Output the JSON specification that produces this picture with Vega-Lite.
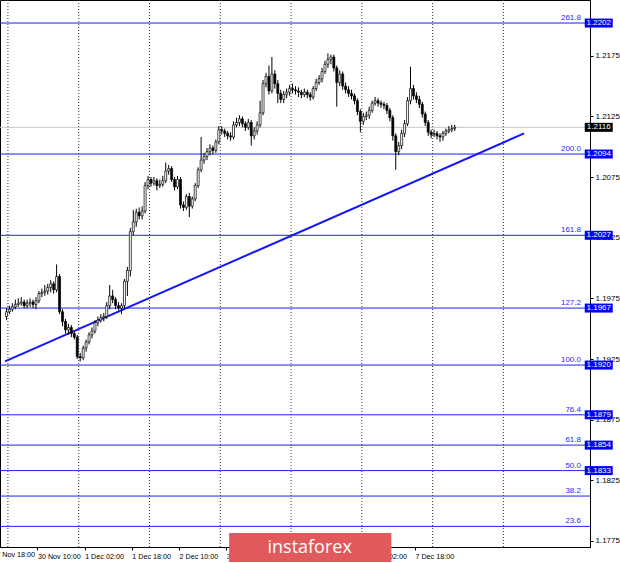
{
  "$schema": "https://vega.github.io/schema/vega-lite/v6.json",
  "width": 590,
  "height": 547,
  "autosize": {"type": "none"},
  "padding": {"left": 0, "top": 0, "right": 30, "bottom": 16},
  "background": "white",
  "config": {
    "view": {"stroke": "black", "strokeWidth": 1},
    "axis": {"labelFont": "Liberation Sans", "labelFontSize": 8, "labelColor": "black", "domainColor": "black", "tickColor": "black", "grid": false, "title": null, "tickSize": 3}
  },
  "datasets": {
    "candles": [
      {"i":0,"o":1.1960,"h":1.1967,"l":1.1957,"c":1.1964},
      {"i":1,"o":1.1964,"h":1.1969,"l":1.1962,"c":1.1966},
      {"i":2,"o":1.1966,"h":1.1971,"l":1.1964,"c":1.1968},
      {"i":3,"o":1.1968,"h":1.1974,"l":1.1966,"c":1.1970},
      {"i":4,"o":1.1970,"h":1.1975,"l":1.1968,"c":1.1971},
      {"i":5,"o":1.1971,"h":1.1976,"l":1.1969,"c":1.1972},
      {"i":6,"o":1.1972,"h":1.1974,"l":1.1967,"c":1.1969},
      {"i":7,"o":1.1969,"h":1.1974,"l":1.1967,"c":1.1971},
      {"i":8,"o":1.1971,"h":1.1975,"l":1.1968,"c":1.1972},
      {"i":9,"o":1.1972,"h":1.1974,"l":1.1967,"c":1.1970},
      {"i":10,"o":1.1970,"h":1.1976,"l":1.1966,"c":1.1973},
      {"i":11,"o":1.1973,"h":1.1981,"l":1.1971,"c":1.1979},
      {"i":12,"o":1.1979,"h":1.1983,"l":1.1976,"c":1.1980},
      {"i":13,"o":1.1980,"h":1.1986,"l":1.1977,"c":1.1981},
      {"i":14,"o":1.1981,"h":1.1987,"l":1.1978,"c":1.1984},
      {"i":15,"o":1.1984,"h":1.1990,"l":1.1980,"c":1.1987},
      {"i":16,"o":1.1987,"h":1.1989,"l":1.1979,"c":1.1982},
      {"i":17,"o":1.1982,"h":1.2003,"l":1.1980,"c":1.1993},
      {"i":18,"o":1.1993,"h":1.1995,"l":1.1962,"c":1.1964},
      {"i":19,"o":1.1964,"h":1.1966,"l":1.1952,"c":1.1956},
      {"i":20,"o":1.1956,"h":1.1958,"l":1.1946,"c":1.1949},
      {"i":21,"o":1.1949,"h":1.1954,"l":1.1945,"c":1.1951},
      {"i":22,"o":1.1951,"h":1.1953,"l":1.1943,"c":1.1946},
      {"i":23,"o":1.1946,"h":1.1948,"l":1.1941,"c":1.1943},
      {"i":24,"o":1.1943,"h":1.1945,"l":1.1925,"c":1.1927},
      {"i":25,"o":1.1927,"h":1.1930,"l":1.1923,"c":1.1926},
      {"i":26,"o":1.1926,"h":1.1936,"l":1.1924,"c":1.1934},
      {"i":27,"o":1.1934,"h":1.1941,"l":1.1931,"c":1.1939},
      {"i":28,"o":1.1939,"h":1.1947,"l":1.1937,"c":1.1945},
      {"i":29,"o":1.1945,"h":1.1951,"l":1.1942,"c":1.1948},
      {"i":30,"o":1.1948,"h":1.1957,"l":1.1946,"c":1.1955},
      {"i":31,"o":1.1955,"h":1.1960,"l":1.1952,"c":1.1957},
      {"i":32,"o":1.1957,"h":1.1962,"l":1.1955,"c":1.1959},
      {"i":33,"o":1.1959,"h":1.1963,"l":1.1956,"c":1.1960},
      {"i":34,"o":1.1960,"h":1.1972,"l":1.1958,"c":1.1969},
      {"i":35,"o":1.1969,"h":1.1986,"l":1.1966,"c":1.1977},
      {"i":36,"o":1.1977,"h":1.1982,"l":1.1971,"c":1.1974},
      {"i":37,"o":1.1974,"h":1.1976,"l":1.1966,"c":1.1969},
      {"i":38,"o":1.1969,"h":1.1972,"l":1.1965,"c":1.1967},
      {"i":39,"o":1.1967,"h":1.1971,"l":1.1962,"c":1.1969},
      {"i":40,"o":1.1969,"h":1.1991,"l":1.1967,"c":1.1989},
      {"i":41,"o":1.1989,"h":1.2001,"l":1.1977,"c":1.1998},
      {"i":42,"o":1.1998,"h":1.2033,"l":1.1993,"c":1.2030},
      {"i":43,"o":1.2030,"h":1.2048,"l":1.2027,"c":1.2038},
      {"i":44,"o":1.2038,"h":1.2049,"l":1.2034,"c":1.2046},
      {"i":45,"o":1.2046,"h":1.2050,"l":1.2040,"c":1.2043},
      {"i":46,"o":1.2043,"h":1.2051,"l":1.2040,"c":1.2047},
      {"i":47,"o":1.2047,"h":1.2071,"l":1.2045,"c":1.2068},
      {"i":48,"o":1.2068,"h":1.2076,"l":1.2065,"c":1.2073},
      {"i":49,"o":1.2073,"h":1.2075,"l":1.2067,"c":1.2070},
      {"i":50,"o":1.2070,"h":1.2075,"l":1.2068,"c":1.2072},
      {"i":51,"o":1.2072,"h":1.2074,"l":1.2064,"c":1.2068},
      {"i":52,"o":1.2068,"h":1.2073,"l":1.2066,"c":1.2069},
      {"i":53,"o":1.2069,"h":1.2076,"l":1.2067,"c":1.2072},
      {"i":54,"o":1.2072,"h":1.2087,"l":1.2070,"c":1.2080},
      {"i":55,"o":1.2080,"h":1.2085,"l":1.2077,"c":1.2082},
      {"i":56,"o":1.2082,"h":1.2084,"l":1.2071,"c":1.2073},
      {"i":57,"o":1.2073,"h":1.2075,"l":1.2064,"c":1.2067},
      {"i":58,"o":1.2067,"h":1.2076,"l":1.2065,"c":1.2073},
      {"i":59,"o":1.2073,"h":1.2075,"l":1.2049,"c":1.2052},
      {"i":60,"o":1.2052,"h":1.2055,"l":1.2047,"c":1.2050},
      {"i":61,"o":1.2050,"h":1.2061,"l":1.2048,"c":1.2059},
      {"i":62,"o":1.2059,"h":1.2062,"l":1.2042,"c":1.2051},
      {"i":63,"o":1.2051,"h":1.2059,"l":1.2049,"c":1.2057},
      {"i":64,"o":1.2057,"h":1.2070,"l":1.2055,"c":1.2068},
      {"i":65,"o":1.2068,"h":1.2083,"l":1.2066,"c":1.2081},
      {"i":66,"o":1.2081,"h":1.2108,"l":1.2079,"c":1.2089},
      {"i":67,"o":1.2089,"h":1.2095,"l":1.2086,"c":1.2092},
      {"i":68,"o":1.2092,"h":1.2099,"l":1.2089,"c":1.2096},
      {"i":69,"o":1.2096,"h":1.2102,"l":1.2093,"c":1.2099},
      {"i":70,"o":1.2099,"h":1.2101,"l":1.2094,"c":1.2097},
      {"i":71,"o":1.2097,"h":1.2106,"l":1.2095,"c":1.2104},
      {"i":72,"o":1.2104,"h":1.2117,"l":1.2102,"c":1.2114},
      {"i":73,"o":1.2114,"h":1.2117,"l":1.2110,"c":1.2113},
      {"i":74,"o":1.2113,"h":1.2115,"l":1.2108,"c":1.2111},
      {"i":75,"o":1.2111,"h":1.2113,"l":1.2106,"c":1.2109},
      {"i":76,"o":1.2109,"h":1.2112,"l":1.2105,"c":1.2108},
      {"i":77,"o":1.2108,"h":1.2121,"l":1.2106,"c":1.2118},
      {"i":78,"o":1.2118,"h":1.2124,"l":1.2116,"c":1.2120},
      {"i":79,"o":1.2120,"h":1.2126,"l":1.2117,"c":1.2123},
      {"i":80,"o":1.2123,"h":1.2125,"l":1.2116,"c":1.2119},
      {"i":81,"o":1.2119,"h":1.2121,"l":1.2113,"c":1.2116},
      {"i":82,"o":1.2116,"h":1.2123,"l":1.2114,"c":1.2120},
      {"i":83,"o":1.2120,"h":1.2122,"l":1.2101,"c":1.2109},
      {"i":84,"o":1.2109,"h":1.2116,"l":1.2106,"c":1.2113},
      {"i":85,"o":1.2113,"h":1.2121,"l":1.2110,"c":1.2118},
      {"i":86,"o":1.2118,"h":1.2138,"l":1.2116,"c":1.2128},
      {"i":87,"o":1.2128,"h":1.2155,"l":1.2126,"c":1.2152},
      {"i":88,"o":1.2152,"h":1.2161,"l":1.2149,"c":1.2158},
      {"i":89,"o":1.2158,"h":1.2167,"l":1.2143,"c":1.2146},
      {"i":90,"o":1.2146,"h":1.2174,"l":1.2144,"c":1.2160},
      {"i":91,"o":1.2160,"h":1.2163,"l":1.2148,"c":1.2152},
      {"i":92,"o":1.2152,"h":1.2155,"l":1.2136,"c":1.2144},
      {"i":93,"o":1.2144,"h":1.2147,"l":1.2136,"c":1.2139},
      {"i":94,"o":1.2139,"h":1.2146,"l":1.2136,"c":1.2143},
      {"i":95,"o":1.2143,"h":1.2148,"l":1.2140,"c":1.2145},
      {"i":96,"o":1.2145,"h":1.2151,"l":1.2142,"c":1.2148},
      {"i":97,"o":1.2148,"h":1.2152,"l":1.2144,"c":1.2147},
      {"i":98,"o":1.2147,"h":1.2150,"l":1.2143,"c":1.2146},
      {"i":99,"o":1.2146,"h":1.2149,"l":1.2141,"c":1.2145},
      {"i":100,"o":1.2145,"h":1.2147,"l":1.2140,"c":1.2143},
      {"i":101,"o":1.2143,"h":1.2148,"l":1.2141,"c":1.2145},
      {"i":102,"o":1.2145,"h":1.2147,"l":1.2140,"c":1.2143},
      {"i":103,"o":1.2143,"h":1.2145,"l":1.2138,"c":1.2141},
      {"i":104,"o":1.2141,"h":1.2150,"l":1.2139,"c":1.2148},
      {"i":105,"o":1.2148,"h":1.2156,"l":1.2146,"c":1.2153},
      {"i":106,"o":1.2153,"h":1.2159,"l":1.2151,"c":1.2156},
      {"i":107,"o":1.2156,"h":1.2165,"l":1.2153,"c":1.2162},
      {"i":108,"o":1.2162,"h":1.2171,"l":1.2160,"c":1.2168},
      {"i":109,"o":1.2168,"h":1.2177,"l":1.2165,"c":1.2172},
      {"i":110,"o":1.2172,"h":1.2176,"l":1.2168,"c":1.2174},
      {"i":111,"o":1.2174,"h":1.2176,"l":1.2162,"c":1.2165},
      {"i":112,"o":1.2165,"h":1.2167,"l":1.2133,"c":1.2153},
      {"i":113,"o":1.2153,"h":1.2163,"l":1.2150,"c":1.2160},
      {"i":114,"o":1.2160,"h":1.2162,"l":1.2147,"c":1.2150},
      {"i":115,"o":1.2150,"h":1.2153,"l":1.2144,"c":1.2147},
      {"i":116,"o":1.2147,"h":1.2150,"l":1.2141,"c":1.2144},
      {"i":117,"o":1.2144,"h":1.2147,"l":1.2139,"c":1.2142},
      {"i":118,"o":1.2142,"h":1.2144,"l":1.2135,"c":1.2138},
      {"i":119,"o":1.2138,"h":1.2140,"l":1.2126,"c":1.2129},
      {"i":120,"o":1.2129,"h":1.2131,"l":1.2112,"c":1.2121},
      {"i":121,"o":1.2121,"h":1.2128,"l":1.2118,"c":1.2125},
      {"i":122,"o":1.2125,"h":1.2129,"l":1.2122,"c":1.2126},
      {"i":123,"o":1.2126,"h":1.2133,"l":1.2123,"c":1.2130},
      {"i":124,"o":1.2130,"h":1.2138,"l":1.2128,"c":1.2136},
      {"i":125,"o":1.2136,"h":1.2141,"l":1.2134,"c":1.2138},
      {"i":126,"o":1.2138,"h":1.2140,"l":1.2133,"c":1.2136},
      {"i":127,"o":1.2136,"h":1.2138,"l":1.2132,"c":1.2135},
      {"i":128,"o":1.2135,"h":1.2137,"l":1.2131,"c":1.2134},
      {"i":129,"o":1.2134,"h":1.2136,"l":1.2127,"c":1.2130},
      {"i":130,"o":1.2130,"h":1.2132,"l":1.2121,"c":1.2124},
      {"i":131,"o":1.2124,"h":1.2126,"l":1.2105,"c":1.2109},
      {"i":132,"o":1.2109,"h":1.2111,"l":1.2081,"c":1.2096},
      {"i":133,"o":1.2096,"h":1.2104,"l":1.2093,"c":1.2101},
      {"i":134,"o":1.2101,"h":1.2114,"l":1.2098,"c":1.2111},
      {"i":135,"o":1.2111,"h":1.2122,"l":1.2108,"c":1.2119},
      {"i":136,"o":1.2119,"h":1.2141,"l":1.2117,"c":1.2138},
      {"i":137,"o":1.2138,"h":1.2166,"l":1.2135,"c":1.2148},
      {"i":138,"o":1.2148,"h":1.2151,"l":1.2139,"c":1.2142},
      {"i":139,"o":1.2142,"h":1.2145,"l":1.2136,"c":1.2139},
      {"i":140,"o":1.2139,"h":1.2142,"l":1.2132,"c":1.2135},
      {"i":141,"o":1.2135,"h":1.2137,"l":1.2124,"c":1.2127},
      {"i":142,"o":1.2127,"h":1.2129,"l":1.2117,"c":1.2120},
      {"i":143,"o":1.2120,"h":1.2122,"l":1.2109,"c":1.2112},
      {"i":144,"o":1.2112,"h":1.2114,"l":1.2107,"c":1.2110},
      {"i":145,"o":1.2110,"h":1.2114,"l":1.2108,"c":1.2111},
      {"i":146,"o":1.2111,"h":1.2113,"l":1.2106,"c":1.2109},
      {"i":147,"o":1.2109,"h":1.2111,"l":1.2104,"c":1.2108},
      {"i":148,"o":1.2108,"h":1.2113,"l":1.2105,"c":1.2111},
      {"i":149,"o":1.2111,"h":1.2115,"l":1.2109,"c":1.2113},
      {"i":150,"o":1.2113,"h":1.2117,"l":1.2111,"c":1.2114},
      {"i":151,"o":1.2114,"h":1.2118,"l":1.2112,"c":1.2115},
      {"i":152,"o":1.2115,"h":1.2118,"l":1.2113,"c":1.2116}
    ],
    "fib": [
      {"level":"261.8","price":1.2202},
      {"level":"200.0","price":1.2094},
      {"level":"161.8","price":1.2027},
      {"level":"127.2","price":1.1967},
      {"level":"100.0","price":1.1920},
      {"level":"76.4","price":1.1879},
      {"level":"61.8","price":1.1854},
      {"level":"50.0","price":1.1833},
      {"level":"38.2","price":1.1812},
      {"level":"23.6","price":1.1787}
    ],
    "boxes": [
      {"label":"1.2202","price":1.2202,"bg":"#0000ff"},
      {"label":"1.2094","price":1.2094,"bg":"#0000ff"},
      {"label":"1.2027","price":1.2027,"bg":"#0000ff"},
      {"label":"1.1967","price":1.1967,"bg":"#0000ff"},
      {"label":"1.1920","price":1.1920,"bg":"#0000ff"},
      {"label":"1.1879","price":1.1879,"bg":"#0000ff"},
      {"label":"1.1854","price":1.1854,"bg":"#0000ff"},
      {"label":"1.1833","price":1.1833,"bg":"#0000ff"},
      {"label":"1.2116","price":1.2116,"bg":"#000000"}
    ],
    "grid": [{"g":0.5},{"g":24.5},{"g":48.5},{"g":72.5},{"g":96.5},{"g":120.5},{"g":144.5},{"g":168.5}],
    "trend": [{"t":-0.5,"p":1.1923},{"t":175.5,"p":1.2111}],
    "wm": [{"x1":75.5,"x2":130.5,"y1":1.17815,"y2":1.17576,"xc":102.8,"yc":1.17695,"txt":"instaforex"}],
    "cutlabel": [{"t":-5.5,"p":1.17634,"txt":"27 Nov 18:00"}]
  },
  "layer": [
    {
      "data": {"name": "grid"},
      "mark": {"type": "rule", "color": "#333333", "strokeWidth": 1, "strokeDash": [1, 2]},
      "encoding": {
        "x": {"field": "g", "type": "quantitative", "scale": {"domain": [-0.5, 196.17], "nice": false, "zero": false},
          "axis": {"orient": "bottom", "values": [10.5, 26.5, 42.5, 58.5, 74.5, 90.5, 106.5, 122.5, 138.5], "labelAlign": "left", "labelPadding": 2, "labelOverlap": false, "labelBound": false, "labelFlush": false, "labelDx": 2, "labelFontSize": 7.2,
            "labelExpr": "datum.value < 20 ? '30 Nov 10:00' : datum.value < 30 ? '1 Dec 02:00' : datum.value < 50 ? '1 Dec 18:00' : datum.value < 60 ? '2 Dec 10:00' : datum.value < 80 ? '3 Dec 02:00' : datum.value < 100 ? '3 Dec 18:00' : datum.value < 110 ? '4 Dec 10:00' : datum.value < 130 ? '7 Dec 02:00' : '7 Dec 18:00'"}}
      }
    },
    {
      "data": {"name": "fib"},
      "mark": {"type": "rule", "color": "#1f1fff", "strokeWidth": 1},
      "encoding": {
        "y": {"field": "price", "type": "quantitative", "scale": {"domain": [1.1770, 1.2221], "nice": false, "zero": false},
          "axis": {"orient": "right", "values": [1.1775, 1.18, 1.1825, 1.185, 1.1875, 1.19, 1.1925, 1.195, 1.1975, 1.2, 1.2025, 1.205, 1.2075, 1.21, 1.2125, 1.215, 1.2175, 1.22], "format": ".4f", "labelPadding": 2}}
      }
    },
    {
      "data": {"values": [{"p": 1.2116}]},
      "mark": {"type": "rule", "color": "#c8c8c8", "strokeWidth": 1},
      "encoding": {"y": {"field": "p", "type": "quantitative"}}
    },
    {
      "data": {"name": "fib"},
      "mark": {"type": "text", "color": "#1f1fff", "font": "Liberation Sans", "fontSize": 8, "align": "right", "baseline": "bottom", "dy": -1},
      "encoding": {
        "x": {"datum": 194.8, "type": "quantitative"},
        "y": {"field": "price", "type": "quantitative"},
        "text": {"field": "level"}
      }
    },
    {
      "data": {"name": "trend"},
      "mark": {"type": "line", "color": "#1515ff", "strokeWidth": 2},
      "encoding": {
        "x": {"field": "t", "type": "quantitative"},
        "y": {"field": "p", "type": "quantitative"}
      }
    },
    {
      "data": {"name": "candles"},
      "mark": {"type": "rule", "color": "black", "strokeWidth": 1},
      "encoding": {
        "x": {"field": "i", "type": "quantitative"},
        "y": {"field": "l", "type": "quantitative"},
        "y2": {"field": "h"}
      }
    },
    {
      "data": {"name": "candles"},
      "mark": {"type": "bar", "size": 2, "stroke": "black", "strokeWidth": 0.7},
      "encoding": {
        "x": {"field": "i", "type": "quantitative"},
        "y": {"field": "o", "type": "quantitative"},
        "y2": {"field": "c"},
        "fill": {"condition": {"test": "datum.c >= datum.o", "value": "white"}, "value": "black"}
      }
    },
    {
      "data": {"name": "boxes"},
      "mark": {"type": "tick", "orient": "horizontal", "size": 28, "thickness": 9, "opacity": 1},
      "encoding": {
        "x": {"datum": 200.83, "type": "quantitative"},
        "y": {"field": "price", "type": "quantitative"},
        "color": {"field": "bg", "type": "nominal", "scale": null}
      }
    },
    {
      "data": {"name": "boxes"},
      "mark": {"type": "text", "color": "white", "font": "Liberation Sans", "fontSize": 8, "align": "center", "baseline": "middle"},
      "encoding": {
        "x": {"datum": 200.83, "type": "quantitative"},
        "y": {"field": "price", "type": "quantitative"},
        "text": {"field": "label"}
      }
    },
    {
      "data": {"name": "cutlabel"},
      "mark": {"type": "text", "color": "black", "font": "Liberation Sans", "fontSize": 7.2, "align": "left", "baseline": "middle", "dx": 2},
      "encoding": {
        "x": {"field": "t", "type": "quantitative"},
        "y": {"field": "p", "type": "quantitative"},
        "text": {"field": "txt"}
      }
    },
    {
      "data": {"name": "wm"},
      "mark": {"type": "rect", "color": "#e0595b", "opacity": 1},
      "encoding": {
        "x": {"field": "x1", "type": "quantitative"},
        "x2": {"field": "x2"},
        "y": {"field": "y1", "type": "quantitative"},
        "y2": {"field": "y2"}
      }
    },
    {
      "data": {"name": "wm"},
      "mark": {"type": "text", "color": "white", "font": "Open Sans", "fontSize": 18, "align": "center", "baseline": "middle"},
      "encoding": {
        "x": {"field": "xc", "type": "quantitative"},
        "y": {"field": "yc", "type": "quantitative"},
        "text": {"field": "txt"}
      }
    }
  ]
}
